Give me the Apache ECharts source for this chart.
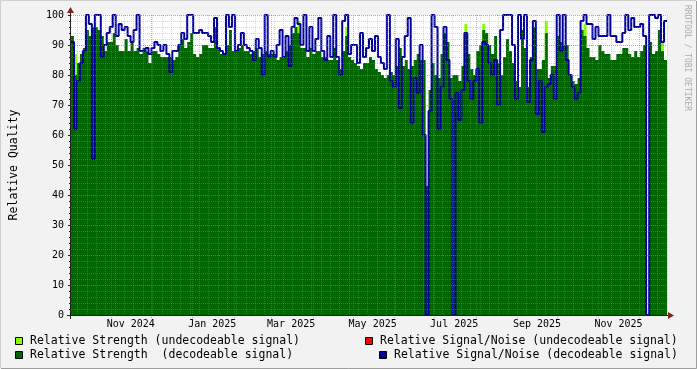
<!DOCTYPE html>
<html><head><meta charset="utf-8">
<script src="https://cdn.jsdelivr.net/npm/echarts@6/dist/echarts.min.js"></script>
<style>html,body{margin:0;padding:0;background:#F2F2F2}#c{width:697px;height:369px}</style>
</head><body><div id="c"></div>
<script>
// ---- data (one consolidated sample every ~2.23 days, Oct 2024 - Dec 2025) ----
const startTime = Date.UTC(2024, 9, 2, 6, 15);
const spanDays = 446;
// Relative Strength (decodeable signal)
const strength = [
 93,80,84,87,89,95,93,96,96,95, 93,88,91,91,94,90,88,88,92,88, 91,88,89,87,89,88,84,88,88,87, 86,86,86,86,
 85,86,90,92,89,91,94,87,86,87, 90,90,89,89,96,89,87,87,90,95, 88,88,89,90,88,88,87,88,89,86, 87,88,87,
 87,87,85,86,86,88,90,94,96,94, 89,89,86,89,87,88,88,86,86,85, 85,89,85,82,88,93,86,85,84,83, 82,84,84,
 86,85,82,81,80,79,80,81,80,83, 89,83,85,82,83,85,87,85,85,43, 75,84,80,79,87,94,91,79,80,80, 78,83,94,87,
 82,80,88,90,95,94,90,87,93,84, 80,86,92,88,84,78,76,95,89,76, 86,96,82,82,85,94,79,83,83,93, 91,90,90,
 80,78,77,79,95,93,89,86,86,85, 90,88,87,87,85,85,87,87,89,89, 87,86,88,86,88,90,0,91,87,88, 95,88,85
];
// Relative Signal/Noise (decodeable signal)
const snr = [
 91,62,78,84,88,100,97,52,100,100, 86,90,94,96,100,93,97,95,96,93, 91,95,100,88,88,89,87,89,91,90, 88,90,87,81,
 88,88,90,94,92,100,100,94,94,95, 94,94,93,91,99,89,88,87,100,96, 100,88,90,94,90,89,88,85,92,89, 80,100,86,
 88,86,90,95,86,93,83,96,99,97, 90,100,88,96,88,92,99,88,85,93, 86,100,86,80,98,100,87,90,90,84, 94,86,89,
 92,88,93,86,84,82,100,78,76,92, 69,86,93,99,64,79,74,90,60,0, 68,100,96,62,76,96,85,72,0,74, 65,75,94,78,
 72,78,82,64,91,90,84,80,85,70, 95,100,100,100,90,72,100,92,100,71, 85,98,67,78,61,76,77,80,72,100, 88,100,85,
 80,76,72,74,98,100,97,97,92,96, 93,93,93,100,93,93,91,91,94,100, 95,99,96,96,97,93,0,100,100,99, 100,91,98
];
// Relative Strength (undecodeable signal): [sample index, value]
const strengthUndec = [[1,87],[76,98],[92,96],[132,97],[138,97],[159,98],[172,97],[198,91]];
// axis labels
const monthStarts = ['2024-10-01','2024-11-01','2024-12-01','2025-01-01','2025-02-01','2025-03-01','2025-04-01',
  '2025-05-01','2025-06-01','2025-07-01','2025-08-01','2025-09-01','2025-10-01','2025-11-01','2025-12-01'];
const xLabels = ['Nov 2024','Jan 2025','Mar 2025','May 2025','Jul 2025','Sep 2025','Nov 2025'];
const xLabelDates = ['2024-11-16','2025-01-16','2025-03-16','2025-05-16','2025-07-16','2025-09-16','2025-11-16'];
const legendItems = ['Relative Strength (undecodeable signal)','Relative Strength  (decodeable signal)',
  'Relative Signal/Noise (undecodeable signal)','Relative Signal/Noise (decodeable signal)'];

// ---- build ----
const DAY = 86400000;
const endTime = startTime + spanDays * DAY;
const n = strength.length;
const step = (endTime - startTime) / n;
const times = strength.map((_, i) => startTime + i * step);
function stepData(vals) { const d = vals.map((v, i) => [times[i], v]); d.push([endTime, vals[vals.length - 1]]); return d; }
const undecFull = new Array(n).fill(0); strengthUndec.forEach(([i, v]) => undecFull[i] = v);

const MONO = 'DejaVu Sans Mono';
const GRID_MINOR = 'rgba(150,150,150,0.38)';
const GRID_MAJOR = 'rgba(222,79,79,0.5)';
const chart = echarts.init(document.getElementById('c'), null, {renderer: 'canvas'});
const option = {
  animation: false,
  backgroundColor: '#F2F2F2',
  grid: {left: 67, top: 15, width: 600, height: 300, show: true, backgroundColor: '#ffffff', borderWidth: 0},
  xAxis: {type: 'time', min: startTime, max: endTime, show: false},
  yAxis: [
    {type: 'value', min: 0, max: 100, interval: 10, position: 'left', z: 6,
     axisLine: {show: false},
     axisTick: {show: true, length: 3, lineStyle: {color: '#1f1f1f'}},
     axisLabel: {fontFamily: MONO, fontSize: 10, color: '#000', margin: 7},
     splitLine: {show: true, lineStyle: {color: GRID_MAJOR, type: [1, 1], width: 1}},
     name: 'Relative Quality', nameLocation: 'middle', nameGap: 51, nameRotate: 90,
     nameTextStyle: {fontFamily: MONO, fontSize: 11.5, color: '#000'}},
    {type: 'value', min: 0, max: 100, interval: 2, position: 'left', z: 5,
     axisLine: {show: false}, axisLabel: {show: false},
     axisTick: {show: true, length: 2, lineStyle: {color: '#1f1f1f'}},
     splitLine: {show: true, lineStyle: {color: GRID_MINOR, type: [1, 1], width: 1}}}
  ],
  series: [
    {name: legendItems[0], type: 'line', step: 'end', symbol: 'none', data: stepData(undecFull), z: 1,
     lineStyle: {width: 0}, areaStyle: {color: '#88FF00', opacity: 1}},
    {name: legendItems[1], type: 'line', step: 'end', symbol: 'none', data: stepData(strength), z: 2,
     lineStyle: {width: 0}, areaStyle: {color: '#006600', opacity: 1}},
    {name: legendItems[3], type: 'line', step: 'end', symbol: 'none', data: stepData(snr), z: 3,
     lineStyle: {width: 2, color: '#000099'}}
  ]
};
chart.setOption(option);

const px = t => chart.convertToPixel({xAxisIndex: 0}, t);
const py = v => chart.convertToPixel({yAxisIndex: 0}, v);
const g = [];
const yTop = py(100), yBot = py(0);
const monthTs = monthStarts.map(s => Date.parse(s + 'T00:00:00Z'));
// weekly minor grid
let w = Date.UTC(2024, 9, 7);
while (w < endTime) {
  if (!monthTs.some(m => Math.abs(m - w) < DAY)) {
    const x = Math.round(px(w)) + 0.5;
    g.push({type: 'line', z: 50, silent: true, shape: {x1: x, y1: yTop, x2: x, y2: yBot + 2},
      style: {stroke: GRID_MINOR, lineWidth: 1, lineDash: [1, 1]}});
  }
  w += 7 * DAY;
}
monthTs.forEach(m => {
  if (m <= startTime || m >= endTime) return;
  const x = Math.round(px(m)) + 0.5;
  g.push({type: 'line', z: 51, silent: true, shape: {x1: x, y1: yTop, x2: x, y2: yBot + 3},
    style: {stroke: GRID_MAJOR, lineWidth: 1, lineDash: [1, 1]}});
});
// axes
const x0 = px(startTime), x1 = px(endTime);
g.push({type: 'line', z: 60, shape: {x1: x0 - 4, y1: yBot + 0.5, x2: x1 + 3, y2: yBot + 0.5}, style: {stroke: '#1f1f1f', lineWidth: 1}});
g.push({type: 'line', z: 60, shape: {x1: x0 - 0.5, y1: yBot + 4, x2: x0 - 0.5, y2: yTop - 4}, style: {stroke: '#1f1f1f', lineWidth: 1}});
g.push({type: 'polygon', z: 61, shape: {points: [[x1 + 1, yBot - 3], [x1 + 1, yBot + 4], [x1 + 7, yBot + 0.5]]}, style: {fill: '#801f1f'}});
g.push({type: 'polygon', z: 61, shape: {points: [[x0 - 4, yTop - 2], [x0 + 3, yTop - 2], [x0 - 0.5, yTop - 8]]}, style: {fill: '#801f1f'}});
// x labels
xLabels.forEach((t, i) => {
  g.push({type: 'text', z: 60, x: px(Date.parse(xLabelDates[i] + 'T00:00:00Z')), y: yBot + 9,
    style: {text: t, font: '10px ' + MONO, fill: '#000', align: 'center', verticalAlign: 'middle'}});
});
// legend
const legendRows = [
  {x: 15, y: 341, color: '#88FF00', text: legendItems[0]},
  {x: 15, y: 355, color: '#006600', text: legendItems[1]},
  {x: 365, y: 341, color: '#FF0000', text: legendItems[2]},
  {x: 379, y: 355, color: '#000099', text: legendItems[3]}
];
legendRows.forEach(r => {
  g.push({type: 'rect', z: 60, shape: {x: r.x + 0.5, y: r.y - 3.5, width: 7, height: 7}, style: {fill: r.color, stroke: '#000', lineWidth: 1}});
  g.push({type: 'text', z: 60, x: r.x + 15, y: r.y + 0.5, style: {text: r.text, font: '11.5px ' + MONO, fill: '#000', align: 'left', verticalAlign: 'middle'}});
});
// watermark
g.push({type: 'text', z: 60, x: 687, y: 5, rotation: -Math.PI / 2,
  style: {text: 'RRDTOOL / TOBI OETIKER', font: '8px ' + MONO, fill: '#aaaaaa', align: 'left', verticalAlign: 'middle'}});
// frame shading
g.push({type: 'polyline', z: 70, shape: {points: [[0.5, 368], [0.5, 0.5], [696, 0.5]]}, style: {stroke: '#CFCFCF', lineWidth: 1, fill: null}});
g.push({type: 'polyline', z: 70, shape: {points: [[1, 368.5], [696.5, 368.5], [696.5, 1]]}, style: {stroke: '#9E9E9E', lineWidth: 1, fill: null}});
chart.setOption({graphic: g});
</script></body></html>
